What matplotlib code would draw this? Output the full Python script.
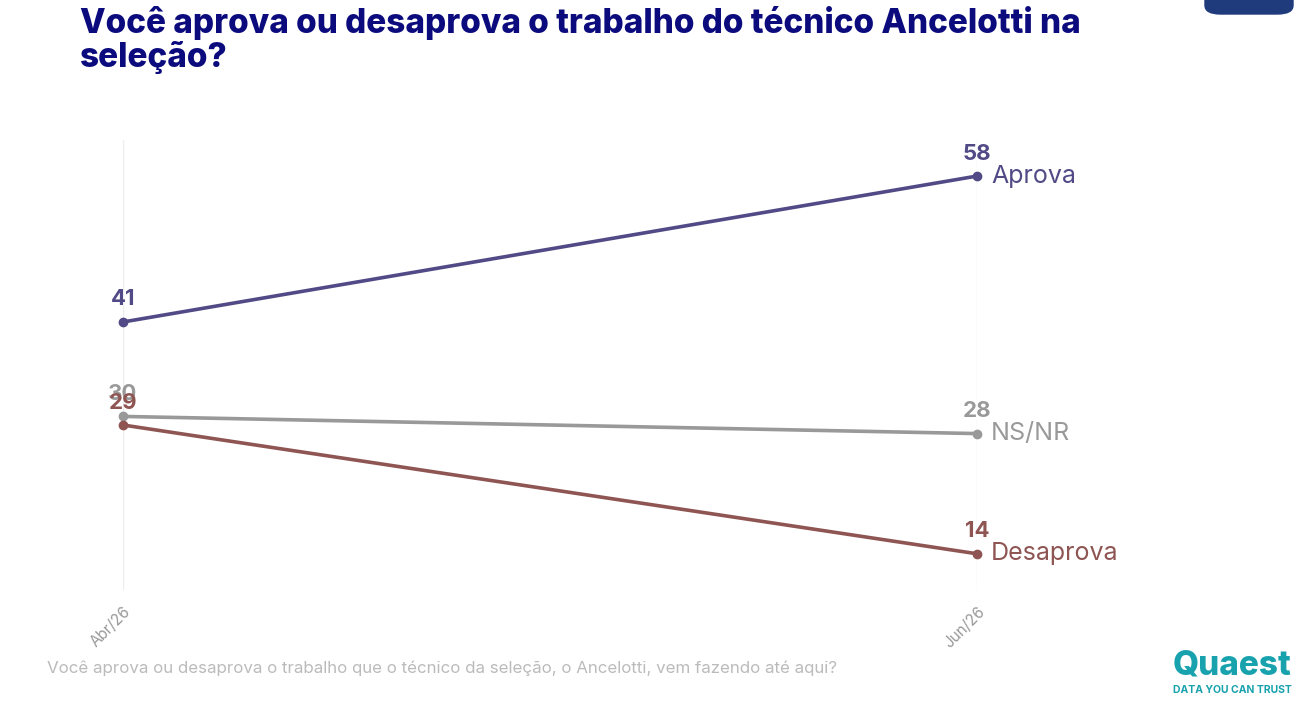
import matplotlib.pyplot as plt
from matplotlib.patches import FancyBboxPatch

periods = ["Abr/26", "Jun/26"]
series_names = ["Aprova", "NS/NR", "Desaprova"]
aprova = [41, 58]
nsnr = [30, 28]
desaprova = [29, 14]
colors = ["#514a86", "#999999", "#8e5553"]

title = "Você aprova ou desaprova o trabalho do técnico Ancelotti na\nseleção?"
footnote = "Você aprova ou desaprova o trabalho que o técnico da seleção, o Ancelotti, vem fazendo até aqui?"

plt.rcParams["font.family"] = ["Inter", "DejaVu Sans"]

W, H = 1305, 720
fig = plt.figure(figsize=(W / 100, H / 100), dpi=100)
ax = fig.add_axes([123 / W, 1 - 590 / H, (977 - 123) / W, (590 - 140) / H])

x = list(range(len(periods)))
for name, vals, c in zip(series_names, [aprova, nsnr, desaprova], colors):
    ax.plot(x, vals, color=c, lw=2.6, marker="o", ms=6, clip_on=False, zorder=3)
    for xi, v in zip(x, vals):
        ax.annotate(str(v), (xi, v), xytext=(0, 9), textcoords="offset points",
                    ha="center", va="bottom", fontsize=16, fontweight="bold",
                    color=c, zorder=4)
    ax.annotate(name, (x[-1], vals[-1]), xytext=(10, 0), textcoords="offset points",
                ha="left", va="center", fontsize=18, color=c)

ax.set_xlim(0, 1)
ax.set_ylim(9.78, 62.2)
ax.set_xticks(x)
ax.set_xticklabels(periods, rotation=45, ha="right", va="top",
                   rotation_mode="anchor", color="#999999", fontsize=11)
ax.tick_params(axis="x", length=0, pad=10)
ax.set_yticks([])
ax.grid(axis="x", color="#eeeeee", lw=1)
for s in ax.spines.values():
    s.set_visible(False)

fig.text(80 / W, 1 - 6 / H, title, ha="left", va="top", fontsize=24,
         fontweight="heavy", color="#0b0b7d", linespacing=1.05)
fig.text(47 / W, 1 - 668 / H, footnote, ha="left", va="center",
         fontsize=12.2, color="#bbbbbb")

# logo
fig.text(1232 / W, 1 - 666 / H, "Quaest", ha="center", va="center",
         fontsize=24, fontweight="heavy", color="#17a2ad")
fig.text(1232 / W, 1 - 690 / H, "DATA YOU CAN TRUST", ha="center", va="center",
         fontsize=7.5, fontweight="bold", color="#17a2ad")
# tab at top right
tab = FancyBboxPatch((1205 / W, 1 - 14 / H), 88 / W, 30 / H,
                     boxstyle="round,pad=0,rounding_size=0.012",
                     transform=fig.transFigure, color="#1f3b7c", clip_on=False)
fig.patches.append(tab)

fig.savefig("out.png", dpi=100, facecolor="white")
